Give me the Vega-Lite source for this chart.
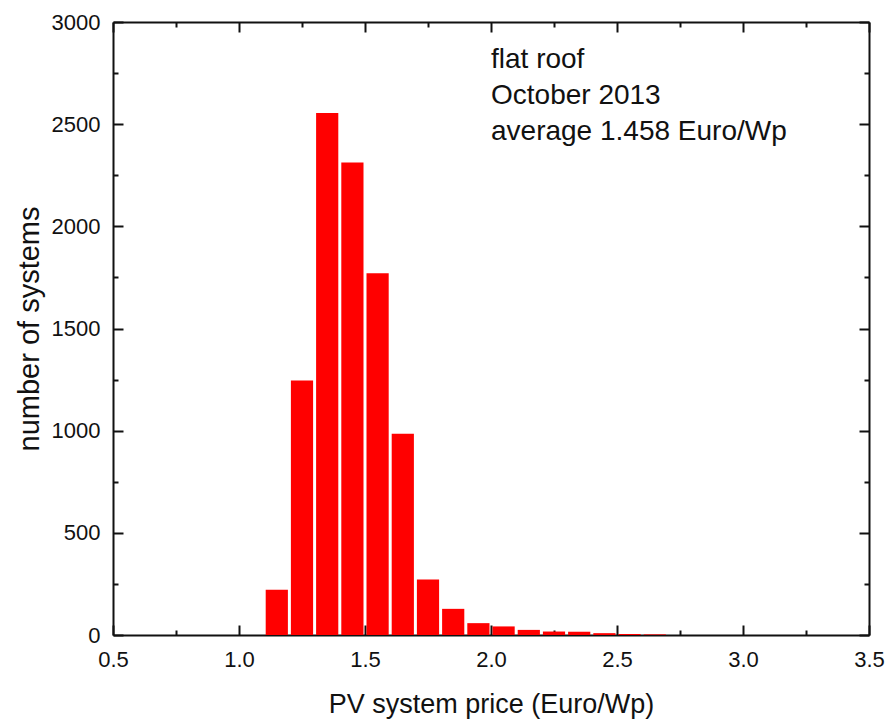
{
  "$schema": "https://vega.github.io/schema/vega-lite/v6.json",
  "autosize": {"type": "none"},
  "padding": {"left": 113, "top": 22, "right": 20, "bottom": 87},
  "width": 756,
  "height": 613,
  "background": "white",
  "config": {
    "view": {"stroke": null},
    "font": "Liberation Sans",
    "axis": {"labelFont": "Liberation Sans", "titleFont": "Liberation Sans", "labelColor": "#111", "titleColor": "#111", "titleFontWeight": "normal", "domainColor": "#111", "tickColor": "#111", "domainWidth": 2, "tickWidth": 2, "grid": false}
  },
  "data": {"values": [
    {"start": 1.1, "end": 1.2, "count": 222},
    {"start": 1.2, "end": 1.3, "count": 1245},
    {"start": 1.3, "end": 1.4, "count": 2555},
    {"start": 1.4, "end": 1.5, "count": 2312},
    {"start": 1.5, "end": 1.6, "count": 1770},
    {"start": 1.6, "end": 1.7, "count": 985},
    {"start": 1.7, "end": 1.8, "count": 272},
    {"start": 1.8, "end": 1.9, "count": 128},
    {"start": 1.9, "end": 2.0, "count": 58},
    {"start": 2.0, "end": 2.1, "count": 42},
    {"start": 2.1, "end": 2.2, "count": 25},
    {"start": 2.2, "end": 2.3, "count": 17},
    {"start": 2.3, "end": 2.4, "count": 16},
    {"start": 2.4, "end": 2.5, "count": 9},
    {"start": 2.5, "end": 2.6, "count": 5},
    {"start": 2.6, "end": 2.7, "count": 3}
  ]},
  "resolve": {"axis": {"x": "independent", "y": "independent"}},
  "layer": [
    {
      "mark": {"type": "rect", "color": "#ff0000", "xOffset": 1.5, "x2Offset": -1.5},
      "encoding": {
        "x": {"field": "start", "type": "quantitative", "scale": {"domain": [0.5, 3.5], "nice": false, "zero": false},
          "axis": {"orient": "bottom", "values": [0.5, 1.0, 1.5, 2.0, 2.5, 3.0, 3.5], "format": ".1f", "ticks": false, "labelFontSize": 22, "labelPadding": 14, "labelFlush": false, "title": "PV system price (Euro/Wp)", "titleFontSize": 27, "titlePadding": 21}},
        "x2": {"field": "end"},
        "y": {"field": "count", "type": "quantitative", "scale": {"domain": [0, 3000], "nice": false},
          "axis": {"orient": "left", "values": [0, 500, 1000, 1500, 2000, 2500, 3000], "format": "d", "ticks": false, "labelFontSize": 22, "labelPadding": 13, "labelFlush": false, "title": "number of systems", "titleFontSize": 29, "titlePadding": 7}},
        "y2": {"datum": 0}
      }
    },
    {
      "mark": {"type": "rect", "opacity": 0},
      "encoding": {
        "x": {"field": "start", "type": "quantitative", "scale": {"domain": [0.5, 3.5], "nice": false, "zero": false},
          "axis": {"orient": "bottom", "values": [0.5, 1.0, 1.5, 2.0, 2.5, 3.0, 3.5], "labels": false, "domain": false, "tickSize": -10, "title": null}},
        "x2": {"field": "end"},
        "y": {"field": "count", "type": "quantitative", "scale": {"domain": [0, 3000], "nice": false},
          "axis": {"orient": "left", "values": [0, 500, 1000, 1500, 2000, 2500, 3000], "labels": false, "domain": false, "tickSize": -10, "title": null}}
      }
    },
    {
      "mark": {"type": "rect", "opacity": 0},
      "encoding": {
        "x": {"field": "start", "type": "quantitative", "scale": {"domain": [0.5, 3.5], "nice": false, "zero": false},
          "axis": {"orient": "bottom", "values": [0.75, 1.25, 1.75, 2.25, 2.75, 3.25], "labels": false, "domain": false, "tickSize": -5, "title": null}},
        "x2": {"field": "end"},
        "y": {"field": "count", "type": "quantitative", "scale": {"domain": [0, 3000], "nice": false},
          "axis": {"orient": "left", "values": [250, 750, 1250, 1750, 2250, 2750], "labels": false, "domain": false, "tickSize": -5, "title": null}}
      }
    },
    {
      "mark": {"type": "rect", "opacity": 0},
      "encoding": {
        "x": {"field": "start", "type": "quantitative", "scale": {"domain": [0.5, 3.5], "nice": false, "zero": false},
          "axis": {"orient": "top", "values": [0.5, 1.0, 1.5, 2.0, 2.5, 3.0, 3.5], "labels": false, "domain": true, "tickSize": -10, "title": null}},
        "x2": {"field": "end"},
        "y": {"field": "count", "type": "quantitative", "scale": {"domain": [0, 3000], "nice": false},
          "axis": {"orient": "right", "values": [0, 500, 1000, 1500, 2000, 2500, 3000], "labels": false, "domain": true, "tickSize": -10, "title": null}}
      }
    },
    {
      "mark": {"type": "rect", "opacity": 0},
      "encoding": {
        "x": {"field": "start", "type": "quantitative", "scale": {"domain": [0.5, 3.5], "nice": false, "zero": false},
          "axis": {"orient": "top", "values": [0.75, 1.25, 1.75, 2.25, 2.75, 3.25], "labels": false, "domain": false, "tickSize": -5, "title": null}},
        "x2": {"field": "end"},
        "y": {"field": "count", "type": "quantitative", "scale": {"domain": [0, 3000], "nice": false},
          "axis": {"orient": "right", "values": [250, 750, 1250, 1750, 2250, 2750], "labels": false, "domain": false, "tickSize": -5, "title": null}}
      }
    },
    {
      "data": {"values": [
        {"px": 2.0, "py": 2775, "label": "flat roof"},
        {"px": 2.0, "py": 2599, "label": "October 2013"},
        {"px": 2.0, "py": 2422, "label": "average 1.458 Euro/Wp"}
      ]},
      "mark": {"type": "text", "align": "left", "baseline": "alphabetic", "fontSize": 28, "font": "Liberation Sans", "color": "#111"},
      "encoding": {
        "x": {"field": "px", "type": "quantitative", "scale": {"domain": [0.5, 3.5], "nice": false, "zero": false}, "axis": null},
        "y": {"field": "py", "type": "quantitative", "scale": {"domain": [0, 3000], "nice": false}, "axis": null},
        "text": {"field": "label"}
      }
    }
  ]
}
